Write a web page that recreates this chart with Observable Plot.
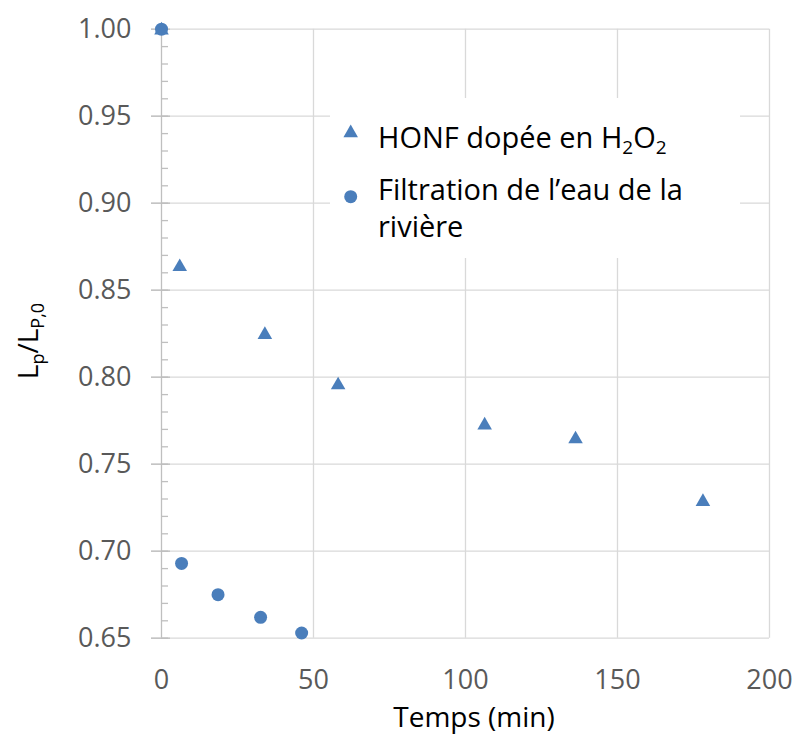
<!DOCTYPE html>
<html><head><meta charset="utf-8">
<script src="https://cdn.jsdelivr.net/npm/d3@7"></script>
<script src="https://cdn.jsdelivr.net/npm/@observablehq/plot@0.6"></script>
<style>body{margin:0;background:#fff;overflow:hidden}</style>
</head><body><div id="chart"></div>
<script>
// Data
const honfTime  = [0, 6.0, 34.0, 58.1, 106.3, 136.2, 178.1];
const honfRatio = [1.000, 0.864, 0.825, 0.796, 0.773, 0.765, 0.729];
const riverTime  = [0, 6.6, 18.6, 32.6, 46.1];
const riverRatio = [1.000, 0.693, 0.675, 0.662, 0.653];
const xTicks = [0, 50, 100, 150, 200];
const yTicks = [0.65, 0.70, 0.75, 0.80, 0.85, 0.90, 0.95, 1.00];
const yMinorTicks = d3.range(65, 101).map(d => d / 100);
const xLabel = "Temps (min)";
const legendHonf = ["HONF dopée en H", "2", "O", "2"];
const legendRiver = ["Filtration de l’eau de la", "rivière"];

const blue = "#4a7ebb";
const font = "Open Sans";
const honf = honfTime.map((t, i) => ({t, v: honfRatio[i]}));
const river = riverTime.map((t, i) => ({t, v: riverRatio[i]}));

const plot = Plot.plot({
  width: 797, height: 737,
  marginLeft: 161, marginRight: 28, marginTop: 28.7, marginBottom: 99.3,
  style: {fontFamily: font, background: "#fff"},
  x: {domain: [0, 200]},
  y: {domain: [0.65, 1.0]},
  marks: [
    Plot.ruleY(yTicks, {x1: 0, x2: 200, insetLeft: -10, stroke: "#d9d9d9", strokeWidth: 1.3}),
    Plot.ruleX(xTicks.slice(1), {stroke: "#d9d9d9", strokeWidth: 1.3}),
    Plot.ruleX([0], {stroke: "#bfbfbf", strokeWidth: 1.3}),
    Plot.ruleY(yMinorTicks, {x1: 0, x2: 0, insetRight: -7, stroke: "#bfbfbf", strokeWidth: 1.3}),
    Plot.ruleY(yTicks, {x1: 0, x2: 0, insetLeft: -10, insetRight: -9, stroke: "#bfbfbf", strokeWidth: 1.3}),
    Plot.axisY(yTicks, {tickSize: 0, tickPadding: 30, tickFormat: d3.format(".2f"), fontSize: 27, fill: "#595959", label: null}),
    Plot.axisX(xTicks, {tickSize: 0, tickPadding: 32, fontSize: 27, fill: "#595959", label: null}),
    Plot.dot(honf, {x: "t", y: "v", symbol: "triangle", r: 5.4, fill: blue, dy: 1}),
    Plot.dot(river, {x: "t", y: "v", symbol: "circle", r: 6.5, fill: blue})
  ]
});
document.getElementById("chart").appendChild(plot);

const svg = d3.select(plot);
const xMid = 474;
// X axis title
svg.append("text").attr("x", xMid).attr("y", 727)
  .attr("text-anchor", "middle").attr("font-family", font).attr("font-size", 28)
  .attr("fill", "#000").text(xLabel);
// Y axis title L_p / L_P,0
const yMid = 341;
const yl = svg.append("text").attr("transform", `translate(38,${yMid}) rotate(-90)`)
  .attr("text-anchor", "middle").attr("font-family", font).attr("font-size", 28).attr("fill", "#000");
yl.append("tspan").text("L");
yl.append("tspan").attr("font-size", 18).attr("dy", 6).text("p");
yl.append("tspan").attr("dy", -6).text("/L");
yl.append("tspan").attr("font-size", 18).attr("dy", 6).text("P,0");

// Legend
const lg = svg.append("g").attr("text-anchor", "start");
lg.append("rect").attr("x", 330).attr("y", 98).attr("width", 410).attr("height", 160).attr("fill", "#fff");
lg.append("path").attr("d", d3.symbol(d3.symbolTriangle, Math.PI * 5.4 * 5.4)())
  .attr("transform", "translate(350.7,133)").attr("fill", blue);
lg.append("circle").attr("cx", 350.7).attr("cy", 196.7).attr("r", 6.5).attr("fill", blue);
const t1 = lg.append("text").attr("x", 378).attr("y", 147.7).attr("text-anchor", "start").attr("font-family", font).attr("font-size", 29).attr("fill", "#000");
t1.append("tspan").text(legendHonf[0]);
t1.append("tspan").attr("font-size", 19).attr("dy", 6).text(legendHonf[1]);
t1.append("tspan").attr("dy", -6).text(legendHonf[2]);
t1.append("tspan").attr("font-size", 19).attr("dy", 6).text(legendHonf[3]);
lg.append("text").attr("x", 378).attr("y", 200).attr("text-anchor", "start").attr("font-family", font).attr("font-size", 29).attr("fill", "#000").text(legendRiver[0]);
lg.append("text").attr("x", 378).attr("y", 237.3).attr("text-anchor", "start").attr("font-family", font).attr("font-size", 29).attr("fill", "#000").text(legendRiver[1]);
</script>
</body></html>
